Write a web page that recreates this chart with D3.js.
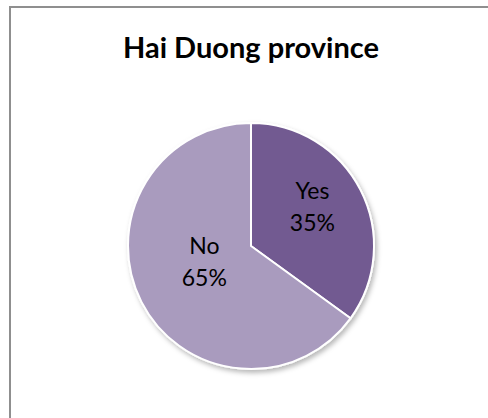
<!DOCTYPE html>
<html>
<head>
<meta charset="utf-8">
<script src="https://cdn.jsdelivr.net/npm/d3@7"></script>
<style>
  html, body { margin: 0; padding: 0; background: #ffffff; }
  svg { display: block; }
</style>
</head>
<body>
<svg id="chart" width="488" height="418"></svg>
<script>
// Survey answers for the province
const title = "Hai Duong province";
const categories = ["Yes", "No"];
const values = [35, 65];

// Styling
const sliceColors = ["#725A91", "#A99BBE"];
const labelRadiusFactor = [0.56, 0.426];

const W = 488, H = 418;
const cx = 251, cy = 246, radius = 123;

const svg = d3.select("#chart");

// Chart frame (extends past the right and bottom edges)
svg.append("rect")
  .attr("x", 10).attr("y", 7)
  .attr("width", W + 20).attr("height", H + 20)
  .attr("fill", "#ffffff")
  .attr("stroke", "#8f8f8f")
  .attr("stroke-width", 2);

// Soft drop shadow under the pie
const defs = svg.append("defs");
const f = defs.append("filter").attr("id", "shadow")
  .attr("x", "-20%").attr("y", "-20%").attr("width", "140%").attr("height", "140%");
f.append("feDropShadow")
  .attr("dx", 2).attr("dy", 3)
  .attr("stdDeviation", 2.5)
  .attr("flood-color", "#000000")
  .attr("flood-opacity", 0.28);

svg.append("text")
  .attr("x", 251).attr("y", 58)
  .attr("text-anchor", "middle")
  .attr("font-family", "Lato, 'Open Sans', sans-serif")
  .attr("font-weight", "bold")
  .attr("font-size", 29)
  .attr("fill", "#000000")
  .text(title);

const data = categories.map((c, i) => ({ cat: c, value: values[i], idx: i }));

const pie = d3.pie().value(d => d.value).sort(null);
const arcs = pie(data);
const arc = d3.arc().innerRadius(0).outerRadius(radius);

const g = svg.append("g").attr("transform", `translate(${cx},${cy})`);

const pieG = g.append("g").attr("filter", "url(#shadow)");
pieG.selectAll("path")
  .data(arcs)
  .join("path")
  .attr("d", arc)
  .attr("fill", d => sliceColors[d.data.idx])
  .attr("stroke", "#ffffff")
  .attr("stroke-width", 2)
  .attr("stroke-linejoin", "round");

const total = d3.sum(values);
const labels = g.selectAll("text.lbl")
  .data(arcs)
  .join("text")
  .attr("class", "lbl")
  .attr("text-anchor", "middle")
  .attr("font-family", "Lato, 'Open Sans', sans-serif")
  .attr("font-size", 23)
  .attr("fill", "#000000")
  .attr("transform", d => {
    const r = radius * labelRadiusFactor[d.data.idx];
    const c = d3.arc().innerRadius(r).outerRadius(r).centroid(d);
    return `translate(${c[0]},${c[1]})`;
  });

labels.append("tspan")
  .attr("x", 0).attr("dy", -16)
  .text(d => d.data.cat);
labels.append("tspan")
  .attr("x", 0).attr("dy", 32)
  .text(d => d3.format(".0%")(d.data.value / total));
</script>
</body>
</html>
